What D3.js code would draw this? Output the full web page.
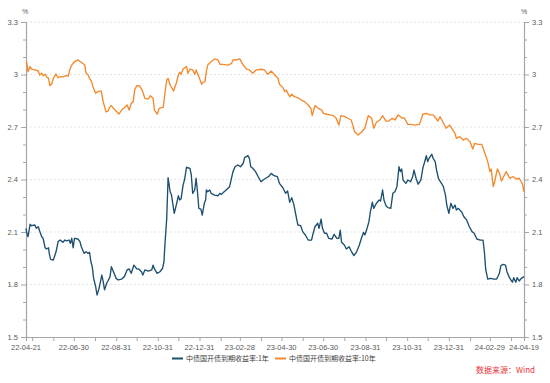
<!DOCTYPE html>
<html><head><meta charset="utf-8">
<script src="https://cdn.jsdelivr.net/npm/d3@7/dist/d3.min.js"></script>
<style>body{margin:0;background:#fff}svg{display:block}</style>
</head><body><svg id="chart" width="550" height="383"></svg>
<script>
// ---------- data ----------
const seriesNames = ["中债国开债到期收益率:1年", "中债国开债到期收益率:10年"];

const dates1Y = ["2022-04-21","2022-04-22","2022-04-24","2022-04-27","2022-04-29","2022-05-04","2022-05-06","2022-05-09","2022-05-11","2022-05-14","2022-05-16","2022-05-19","2022-05-21","2022-05-24","2022-05-25","2022-05-27","2022-05-31","2022-06-04","2022-06-07","2022-06-10","2022-06-14","2022-06-17","2022-06-19","2022-06-23","2022-06-25","2022-06-27","2022-06-29","2022-07-01","2022-07-06","2022-07-09","2022-07-11","2022-07-15","2022-07-18","2022-07-21","2022-07-23","2022-07-25","2022-07-27","2022-07-29","2022-08-01","2022-08-03","2022-08-06","2022-08-08","2022-08-10","2022-08-12","2022-08-14","2022-08-17","2022-08-19","2022-08-22","2022-08-24","2022-08-27","2022-08-31","2022-09-03","2022-09-08","2022-09-12","2022-09-16","2022-09-19","2022-09-22","2022-09-26","2022-09-30","2022-10-03","2022-10-07","2022-10-09","2022-10-12","2022-10-17","2022-10-22","2022-10-24","2022-10-26","2022-10-30","2022-11-03","2022-11-07","2022-11-09","2022-11-10","2022-11-13","2022-11-15","2022-11-18","2022-11-20","2022-11-24","2022-11-27","2022-11-30","2022-12-02","2022-12-04","2022-12-07","2022-12-09","2022-12-12","2022-12-14","2022-12-17","2022-12-19","2022-12-21","2022-12-24","2022-12-26","2022-12-28","2022-12-30","2023-01-02","2023-01-04","2023-01-07","2023-01-09","2023-01-10","2023-01-12","2023-01-15","2023-01-17","2023-01-22","2023-01-27","2023-01-30","2023-02-01","2023-02-05","2023-02-08","2023-02-13","2023-02-18","2023-02-21","2023-02-25","2023-03-01","2023-03-05","2023-03-07","2023-03-12","2023-03-14","2023-03-16","2023-03-19","2023-03-23","2023-03-27","2023-03-31","2023-04-03","2023-04-08","2023-04-11","2023-04-15","2023-04-19","2023-04-24","2023-04-27","2023-05-02","2023-05-06","2023-05-09","2023-05-12","2023-05-15","2023-05-18","2023-05-22","2023-05-24","2023-05-28","2023-05-31","2023-06-04","2023-06-08","2023-06-13","2023-06-15","2023-06-18","2023-06-22","2023-06-24","2023-06-27","2023-06-29","2023-07-02","2023-07-05","2023-07-08","2023-07-13","2023-07-16","2023-07-20","2023-07-23","2023-07-25","2023-07-27","2023-07-31","2023-08-03","2023-08-07","2023-08-10","2023-08-14","2023-08-18","2023-08-22","2023-08-25","2023-08-28","2023-08-30","2023-09-02","2023-09-05","2023-09-07","2023-09-10","2023-09-12","2023-09-16","2023-09-20","2023-09-22","2023-09-25","2023-09-27","2023-09-30","2023-10-03","2023-10-07","2023-10-10","2023-10-13","2023-10-16","2023-10-19","2023-10-21","2023-10-23","2023-10-25","2023-10-29","2023-11-01","2023-11-05","2023-11-08","2023-11-10","2023-11-13","2023-11-16","2023-11-20","2023-11-23","2023-11-25","2023-11-28","2023-11-30","2023-12-02","2023-12-06","2023-12-08","2023-12-11","2023-12-13","2023-12-16","2023-12-18","2023-12-21","2023-12-23","2023-12-26","2023-12-28","2023-12-31","2024-01-03","2024-01-06","2024-01-09","2024-01-11","2024-01-14","2024-01-19","2024-01-22","2024-01-26","2024-01-30","2024-02-03","2024-02-06","2024-02-10","2024-02-15","2024-02-19","2024-02-21","2024-02-23","2024-02-26","2024-03-01","2024-03-06","2024-03-10","2024-03-14","2024-03-16","2024-03-19","2024-03-23","2024-03-25","2024-03-28","2024-03-30","2024-04-02","2024-04-04","2024-04-07","2024-04-09","2024-04-12","2024-04-15","2024-04-19"];
const values1Y = [2.121,2.098,2.073,2.144,2.136,2.140,2.121,2.130,2.106,2.073,2.064,2.010,2.003,2.010,1.978,1.944,1.940,1.987,2.045,2.054,2.041,2.054,2.049,2.054,2.035,2.064,2.010,2.064,2.060,2.045,2.016,1.978,1.987,1.978,1.984,1.930,1.902,1.835,1.787,1.740,1.778,1.816,1.854,1.816,1.769,1.807,1.820,1.845,1.902,1.873,1.835,1.826,1.831,1.845,1.883,1.889,1.864,1.911,1.889,1.889,1.873,1.854,1.883,1.877,1.883,1.911,1.889,1.864,1.873,1.893,1.930,2.007,2.178,2.410,2.330,2.311,2.207,2.254,2.307,2.283,2.289,2.369,2.397,2.470,2.467,2.464,2.426,2.321,2.340,2.407,2.330,2.235,2.231,2.197,2.264,2.283,2.340,2.330,2.340,2.321,2.311,2.307,2.321,2.315,2.330,2.340,2.359,2.445,2.473,2.483,2.473,2.493,2.525,2.536,2.521,2.473,2.464,2.445,2.416,2.387,2.397,2.410,2.416,2.435,2.422,2.416,2.378,2.353,2.321,2.334,2.270,2.296,2.258,2.178,2.140,2.136,2.102,2.083,2.054,2.054,2.087,2.130,2.150,2.121,2.174,2.121,2.093,2.093,2.064,2.060,2.087,2.064,2.064,2.111,2.041,2.026,2.003,2.016,1.991,1.965,1.987,2.026,2.064,2.098,2.083,2.117,2.159,2.213,2.270,2.235,2.264,2.283,2.277,2.340,2.283,2.250,2.239,2.235,2.321,2.330,2.359,2.473,2.445,2.460,2.397,2.378,2.397,2.387,2.416,2.454,2.407,2.373,2.397,2.467,2.493,2.536,2.502,2.521,2.544,2.521,2.502,2.454,2.403,2.391,2.373,2.359,2.311,2.254,2.207,2.264,2.235,2.254,2.226,2.235,2.213,2.187,2.169,2.130,2.102,2.093,2.060,2.054,2.054,1.987,1.883,1.831,1.835,1.831,1.831,1.864,1.907,1.915,1.911,1.873,1.845,1.831,1.813,1.839,1.813,1.839,1.820,1.835,1.845];

const dates10Y = ["2022-04-21","2022-04-22","2022-04-24","2022-04-27","2022-04-29","2022-05-04","2022-05-09","2022-05-11","2022-05-14","2022-05-16","2022-05-19","2022-05-21","2022-05-24","2022-05-26","2022-05-29","2022-05-31","2022-06-04","2022-06-07","2022-06-10","2022-06-14","2022-06-19","2022-06-22","2022-06-24","2022-06-27","2022-07-01","2022-07-06","2022-07-11","2022-07-16","2022-07-18","2022-07-21","2022-07-23","2022-07-26","2022-07-28","2022-08-01","2022-08-04","2022-08-09","2022-08-12","2022-08-16","2022-08-19","2022-08-22","2022-08-24","2022-08-27","2022-09-01","2022-09-04","2022-09-08","2022-09-12","2022-09-16","2022-09-19","2022-09-22","2022-09-25","2022-09-27","2022-09-30","2022-10-04","2022-10-08","2022-10-12","2022-10-17","2022-10-20","2022-10-24","2022-10-26","2022-10-30","2022-11-02","2022-11-08","2022-11-10","2022-11-13","2022-11-15","2022-11-18","2022-11-23","2022-11-27","2022-11-30","2022-12-02","2022-12-04","2022-12-07","2022-12-12","2022-12-14","2022-12-17","2022-12-21","2022-12-24","2022-12-26","2022-12-29","2022-12-31","2023-01-03","2023-01-05","2023-01-08","2023-01-10","2023-01-12","2023-01-17","2023-01-22","2023-01-27","2023-01-30","2023-02-03","2023-02-11","2023-02-16","2023-02-18","2023-02-23","2023-02-28","2023-03-05","2023-03-10","2023-03-14","2023-03-19","2023-03-24","2023-04-01","2023-04-05","2023-04-10","2023-04-15","2023-04-20","2023-04-25","2023-04-27","2023-05-02","2023-05-05","2023-05-07","2023-05-12","2023-05-15","2023-05-19","2023-05-24","2023-05-29","2023-06-03","2023-06-08","2023-06-12","2023-06-14","2023-06-18","2023-06-23","2023-06-28","2023-06-30","2023-07-05","2023-07-10","2023-07-15","2023-07-19","2023-07-23","2023-07-26","2023-08-01","2023-08-05","2023-08-10","2023-08-13","2023-08-15","2023-08-20","2023-08-25","2023-08-30","2023-09-04","2023-09-09","2023-09-12","2023-09-16","2023-09-21","2023-09-25","2023-09-30","2023-10-04","2023-10-09","2023-10-13","2023-10-18","2023-10-23","2023-10-27","2023-11-01","2023-11-06","2023-11-11","2023-11-18","2023-11-23","2023-11-28","2023-12-03","2023-12-08","2023-12-12","2023-12-15","2023-12-18","2023-12-22","2023-12-27","2024-01-01","2024-01-04","2024-01-09","2024-01-11","2024-01-16","2024-01-21","2024-01-26","2024-01-31","2024-02-04","2024-02-07","2024-02-12","2024-02-17","2024-02-21","2024-02-26","2024-02-29","2024-03-02","2024-03-05","2024-03-07","2024-03-11","2024-03-14","2024-03-17","2024-03-20","2024-03-24","2024-03-29","2024-04-03","2024-04-08","2024-04-12","2024-04-15","2024-04-17","2024-04-19"];
const values10Y = [3.073,3.070,3.016,3.045,3.031,3.026,3.020,2.997,3.007,2.993,3.001,2.987,2.978,2.936,2.950,2.978,3.003,2.982,2.986,2.987,2.993,2.991,3.026,3.054,3.073,3.083,3.070,3.054,3.007,2.997,2.978,2.959,2.930,2.893,2.902,2.906,2.845,2.787,2.791,2.816,2.822,2.807,2.787,2.774,2.797,2.810,2.826,2.797,2.835,2.845,2.911,2.936,2.936,2.911,2.864,2.860,2.879,2.864,2.797,2.773,2.807,2.814,2.883,2.969,2.978,2.940,2.906,2.950,2.997,3.013,3.001,3.031,3.045,3.007,3.031,3.026,3.001,3.026,2.997,2.978,2.944,2.955,2.959,3.016,3.054,3.073,3.089,3.083,3.058,3.058,3.054,3.064,3.083,3.083,3.089,3.054,3.031,3.026,3.007,3.026,3.030,3.026,3.001,3.020,2.997,2.978,2.944,2.925,2.902,2.911,2.873,2.887,2.873,2.867,2.854,2.845,2.826,2.807,2.765,2.822,2.807,2.797,2.778,2.773,2.769,2.765,2.750,2.711,2.765,2.759,2.750,2.740,2.702,2.673,2.654,2.670,2.693,2.765,2.750,2.693,2.727,2.740,2.765,2.734,2.734,2.750,2.740,2.769,2.753,2.750,2.715,2.715,2.711,2.715,2.773,2.778,2.769,2.769,2.750,2.734,2.759,2.730,2.693,2.711,2.693,2.664,2.635,2.645,2.626,2.635,2.616,2.574,2.607,2.601,2.601,2.559,2.502,2.445,2.460,2.359,2.387,2.460,2.435,2.391,2.416,2.445,2.407,2.416,2.403,2.407,2.387,2.370,2.330];

const yTicks = [1.5, 1.8, 2.1, 2.4, 2.7, 3.0, 3.3];
const yMinorTicks = [1.6,1.7,1.9,2.0,2.2,2.3,2.5,2.6,2.8,2.9,3.1,3.2];
const xLabelDates = ["2022-04-21","2022-06-30","2022-08-31","2022-10-31","2022-12-31","2023-02-28","2023-04-30","2023-06-30","2023-08-31","2023-10-31","2023-12-31","2024-02-29","2024-04-19"];
const colors = ["#1d4f6e", "#f5892b"];
const sourceText = "数据来源：Wind";

// ---------- chart ----------
const parse = d3.timeParse("%Y-%m-%d");
const fmt = d3.timeFormat("%y-%m-%d");
const svg = d3.select("#chart");
const L = 26, R = 524, T = 22, B = 337;
const axisColor = "#a6a6a6", textColor = "#595959";
const font = "'Liberation Sans', Arial, sans-serif";
const cjk = "'Noto Sans CJK SC', sans-serif";

const x = d3.scaleTime().domain([parse("2022-04-21"), parse("2024-04-19")]).range([L, R]);
const y = d3.scaleLinear().domain([1.5, 3.3]).range([B, T]);

// gridlines
svg.append("g").selectAll("line").data(yTicks.filter(t => t > 1.5)).join("line")
  .attr("x1", L).attr("x2", R).attr("y1", d => y(d)).attr("y2", d => y(d))
  .attr("stroke", "#dcdcdc").attr("stroke-width", 0.8).attr("stroke-dasharray", "2,2");

// y axes
function yAxis(side) {
  const ax = side === "left" ? d3.axisLeft(y) : d3.axisRight(y);
  ax.tickValues(yTicks).tickSize(5).tickPadding(3).tickFormat(d3.format("~g"));
  const g = svg.append("g").attr("transform", `translate(${side === "left" ? L : R},0)`).call(ax);
  g.select(".domain").attr("stroke", axisColor).attr("stroke-width", 1.2);
  g.selectAll(".tick line").attr("stroke", axisColor);
  g.selectAll("text").attr("fill", textColor).style("font-family", font).style("font-size", "7.5px");
  const minor = side === "left" ? d3.axisLeft(y) : d3.axisRight(y);
  minor.tickValues(yMinorTicks).tickSize(3).tickFormat("");
  const gm = svg.append("g").attr("transform", `translate(${side === "left" ? L : R},0)`).call(minor);
  gm.select(".domain").remove();
  gm.selectAll(".tick line").attr("stroke", axisColor);
  svg.append("text").attr("x", side === "left" ? L - 1 : R).attr("y", 14)
    .attr("text-anchor", "middle").attr("fill", textColor)
    .style("font-family", font).style("font-size", "7px").text("%");
}
yAxis("left");
yAxis("right");

// x axis: ticks at each month end, labels every second month end + ends
const monthEnds = d3.timeMonth.range(parse("2022-05-01"), parse("2024-04-02")).map(d => d3.timeDay.offset(d, -1));
const xAx = d3.axisBottom(x).tickValues(monthEnds).tickSize(4).tickFormat("");
const gx = svg.append("g").attr("transform", `translate(0,${B})`).call(xAx);
gx.select(".domain").attr("stroke", axisColor).attr("stroke-width", 1.2);
gx.selectAll(".tick line").attr("stroke", axisColor);
svg.append("g").selectAll("text").data(xLabelDates.map(parse)).join("text")
  .attr("x", d => x(d)).attr("y", B + 12.5).attr("text-anchor", "middle")
  .attr("fill", textColor).style("font-family", font).style("font-size", "7.5px")
  .text(d => fmt(d));

// lines
const series = [
  { name: seriesNames[0], dates: dates1Y, values: values1Y, color: colors[0] },
  { name: seriesNames[1], dates: dates10Y, values: values10Y, color: colors[1] }
];
const line = d3.line().x(d => x(d[0])).y(d => y(d[1]));
series.forEach(s => {
  const pts = s.dates.map((d, i) => [parse(d), s.values[i]]);
  svg.append("path").datum(pts).attr("d", line)
    .attr("fill", "none").attr("stroke", s.color).attr("stroke-width", 1.35)
    .attr("stroke-linejoin", "round");
});

// legend
const legendX = [172, 275];
const lg = svg.append("g");
series.forEach((s, i) => {
  lg.append("line").attr("x1", legendX[i]).attr("x2", legendX[i] + 11)
    .attr("y1", 358.5).attr("y2", 358.5).attr("stroke", s.color).attr("stroke-width", 2);
  lg.append("text").attr("x", legendX[i] + 14).attr("y", 361)
    .attr("fill", "#404040").style("font-family", cjk).style("font-size", "7px").text(s.name);
});

// source
svg.append("text").attr("x", 535).attr("y", 373).attr("text-anchor", "end")
  .attr("fill", "#e8343a").style("font-family", cjk).style("font-size", "8px").text(sourceText);
</script>
</body></html>
